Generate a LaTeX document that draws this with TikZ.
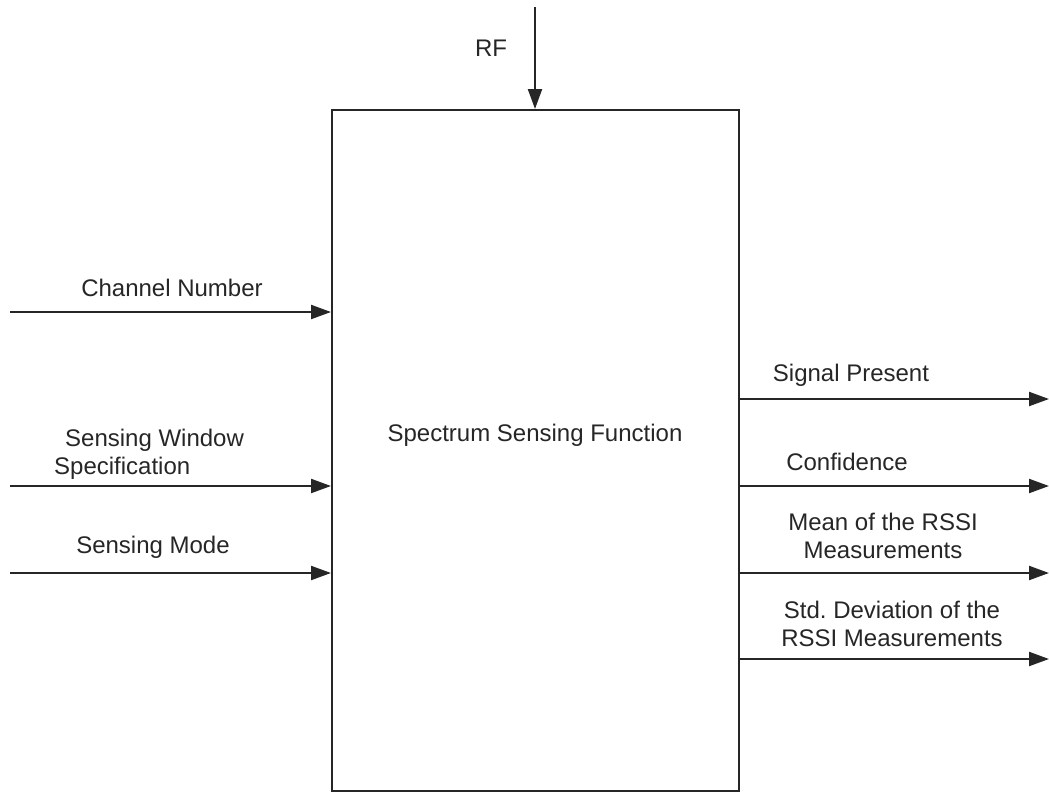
\documentclass[tikz,border=0pt]{standalone}
\usepackage{fontspec}
\setmainfont{Liberation Sans}
\usetikzlibrary{arrows.meta}
\begin{document}
\begin{tikzpicture}[x=1pt,y=-1pt,
  every node/.style={font=\fontsize{24}{28}\selectfont, inner sep=0pt, text=black!85},
  flow/.style={draw=black!85, line width=2.2pt, -{Triangle[length=20pt,width=14pt]}},
  lbl/.style={align=center},
  fbox/.style={draw=black!85, line width=2.2pt, minimum width=407pt, minimum height=681pt, anchor=north west}]
\useasboundingbox (0,0) rectangle (1049,792);

% function block
\node[fbox] (ssf) at (331,109) {};
\node (title) at (535,435) {Spectrum Sensing Function};

% inputs
\coordinate (rfsrc) at (535,7);
\coordinate (rfin) at (535,109);
\draw[flow] (rfsrc) -- (rfin);
\node (rf) at (491,48) {RF};

\coordinate (chsrc) at (10,312);
\coordinate (chin) at (331,312);
\draw[flow] (chsrc) -- (chin);
\node (chl) at (172,288) {Channel Number};

\coordinate (swsrc) at (10,486);
\coordinate (swin) at (331,486);
\draw[flow] (swsrc) -- (swin);
\node[align=left, anchor=west] (swl) at (54,454) {\hspace{11pt}Sensing Window\\Specification};

\coordinate (smsrc) at (10,573);
\coordinate (smin) at (331,573);
\draw[flow] (smsrc) -- (smin);
\node (sml) at (153,547) {Sensing Mode};

% outputs
\coordinate (spout) at (738,399);
\coordinate (spdst) at (1049,399);
\draw[flow] (spout) -- (spdst);
\node (spl) at (851,375) {Signal Present};

\coordinate (cfout) at (738,486);
\coordinate (cfdst) at (1049,486);
\draw[flow] (cfout) -- (cfdst);
\node (cfl) at (847,462) {Confidence};

\coordinate (mnout) at (738,573);
\coordinate (mndst) at (1049,573);
\draw[flow] (mnout) -- (mndst);
\node[lbl] (mnl) at (883,536) {Mean of the RSSI\\Measurements};

\coordinate (sdout) at (738,659);
\coordinate (sddst) at (1049,659);
\draw[flow] (sdout) -- (sddst);
\node[lbl] (sdl) at (892,624) {Std.\ Deviation of the\\RSSI Measurements};
\end{tikzpicture}
\end{document}
